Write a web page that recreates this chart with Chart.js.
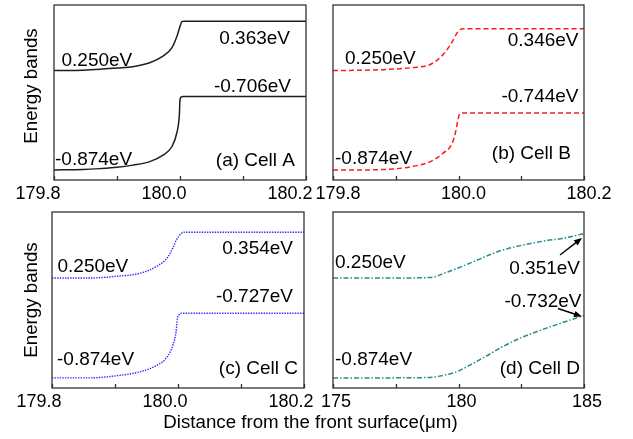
<!DOCTYPE html>
<html>
<head>
<meta charset="utf-8">
<script src="https://cdn.jsdelivr.net/npm/chart.js@4.4.1/dist/chart.umd.min.js"></script>
<style>
  html, body { margin: 0; padding: 0; background: #fff; }
  #wrap { position: relative; width: 633px; height: 439px; overflow: hidden; }
  #wrap canvas { position: absolute; left: 0; top: 0; }
</style>
</head>
<body>
<div id="wrap">
  <canvas id="cellA" width="633" height="439"></canvas>
  <canvas id="cellB" width="633" height="439"></canvas>
  <canvas id="cellC" width="633" height="439"></canvas>
  <canvas id="cellD" width="633" height="439"></canvas>
</div>
<script>
// Band edges across the junction region (depth in µm, energy in eV).
// cb = upper band edge, vb = lower band edge.
const depthA_cb  = [179.800, 179.846, 179.873, 179.900, 179.925, 179.952, 179.973, 179.987, 179.995, 180.000, 180.003, 180.006, 180.200];
const energyA_cb = [0.250, 0.251, 0.253, 0.256, 0.259, 0.268, 0.283, 0.302, 0.328, 0.351, 0.362, 0.363, 0.363];
const depthA_vb  = [179.800, 179.846, 179.873, 179.900, 179.925, 179.952, 179.973, 179.987, 179.995, 179.999, 180.000, 180.002, 180.005, 180.200];
const energyA_vb = [-0.874, -0.873, -0.871, -0.868, -0.863, -0.855, -0.840, -0.821, -0.789, -0.748, -0.714, -0.707, -0.706, -0.706];

const depthB_cb  = [179.800, 179.875, 179.927, 179.955, 179.975, 179.990, 179.999, 180.007, 180.012, 180.200];
const energyB_cb = [0.250, 0.252, 0.257, 0.264, 0.286, 0.316, 0.339, 0.346, 0.346, 0.346];
const depthB_vb  = [179.800, 179.848, 179.902, 179.927, 179.955, 179.975, 179.990, 179.996, 179.999, 180.002, 180.007, 180.200];
const energyB_vb = [-0.874, -0.874, -0.871, -0.866, -0.855, -0.836, -0.813, -0.783, -0.760, -0.746, -0.744, -0.744];

const depthC_cb  = [179.800, 179.860, 179.903, 179.940, 179.967, 179.983, 179.992, 179.998, 180.005, 180.010, 180.200];
const energyC_cb = [0.250, 0.250, 0.254, 0.261, 0.277, 0.296, 0.319, 0.338, 0.351, 0.354, 0.354];
const depthC_vb  = [179.800, 179.860, 179.903, 179.940, 179.967, 179.983, 179.992, 179.997, 179.999, 180.002, 180.006, 180.200];
const energyC_vb = [-0.874, -0.874, -0.869, -0.860, -0.845, -0.826, -0.799, -0.769, -0.739, -0.730, -0.727, -0.727];

const depthD_cb  = [175.00, 177.00, 178.86, 179.53, 180.17, 180.84, 181.52, 182.04, 182.83, 183.51, 184.14, 185.00];
const energyD_cb = [0.250, 0.250, 0.251, 0.263, 0.277, 0.293, 0.309, 0.318, 0.328, 0.335, 0.340, 0.351];
const depthD_vb  = [175.00, 177.00, 178.86, 179.25, 179.93, 180.45, 181.12, 181.76, 182.44, 183.11, 183.91, 185.00];
const energyD_vb = [-0.874, -0.874, -0.873, -0.870, -0.860, -0.845, -0.824, -0.803, -0.784, -0.769, -0.753, -0.732];

// x-axis ticks (every other one carries a label)
const ticksFine    = [179.8, 179.9, 180.0, 180.1, 180.2];
const tickTextFine = ['179.8', '', '180.0', '', '180.2'];
const ticksWide    = [175, 177.5, 180, 182.5, 185];
const tickTextWide = ['175', '', '180', '', '185'];

const cellNames = ['(a) Cell A', '(b) Cell B', '(c) Cell C', '(d) Cell D'];
const yTitle = 'Energy bands';
const xTitle = 'Distance from the front surface(\u03bcm)';

const FAMILY = '"Liberation Sans", Arial, sans-serif';
const NOTE_FONT = '19px ' + FAMILY;
const TITLE_FONT = '18.7px ' + FAMILY;
Chart.defaults.font.family = FAMILY;
Chart.defaults.font.size = 18;
Chart.defaults.color = '#000';

const W = 633, H = 439;
const AXIS_H = 40;   // reserved height of the bottom axis band
const eV = v => v.toFixed(3) + 'eV';
const pts = (xs, ys) => xs.map((x, i) => ({ x, y: ys[i] }));

function arrow(ctx, x1, y1, x2, y2) {
  const ang = Math.atan2(y2 - y1, x2 - x1), L = 8, w = 3.2;
  ctx.beginPath(); ctx.moveTo(x1, y1); ctx.lineTo(x2 - Math.cos(ang) * L * 0.8, y2 - Math.sin(ang) * L * 0.8); ctx.stroke();
  ctx.beginPath();
  ctx.moveTo(x2, y2);
  ctx.lineTo(x2 - L * Math.cos(ang) + w * Math.sin(ang), y2 - L * Math.sin(ang) - w * Math.cos(ang));
  ctx.lineTo(x2 - L * Math.cos(ang) - w * Math.sin(ang), y2 - L * Math.sin(ang) + w * Math.cos(ang));
  ctx.closePath(); ctx.fill();
}

const panels = [
  { id: 'cellA', area: { l: 54, t: 5, r: 306, b: 180 }, xr: [179.8, 180.2], ticks: ticksFine, tickText: tickTextFine, shift: -16,
    cb: [depthA_cb, energyA_cb], vb: [depthA_vb, energyA_vb], color: '#1e1e1e', dash: [], width: 1.5,
    notes: [[eV(energyA_cb[0]), 61.5, 65.5, 'left'], [eV(energyA_cb[energyA_cb.length - 1]), 290, 43.5, 'right'],
            [eV(energyA_vb[energyA_vb.length - 1]), 291, 91.5, 'right'], [eV(energyA_vb[0]), 55, 165, 'left'],
            [cellNames[0], 295, 166, 'right']],
    yTitle: [36.5, 86] },
  { id: 'cellB', area: { l: 333, t: 5, r: 584, b: 180 }, xr: [179.8, 180.2], ticks: ticksFine, tickText: tickTextFine, shift: 5,
    cb: [depthB_cb, energyB_cb], vb: [depthB_vb, energyB_vb], color: '#ff1a1a', dash: [5, 3], width: 1.5,
    notes: [[eV(energyB_cb[0]), 345, 63.5, 'left'], [eV(energyB_cb[energyB_cb.length - 1]), 578.5, 46, 'right'],
            [eV(energyB_vb[energyB_vb.length - 1]), 578.5, 101.5, 'right'], [eV(energyB_vb[0]), 335, 163.5, 'left'],
            [cellNames[1], 571, 158.5, 'right']] },
  { id: 'cellC', area: { l: 52, t: 212, r: 304, b: 388 }, xr: [179.8, 180.2], ticks: ticksFine, tickText: tickTextFine, shift: -13,
    cb: [depthC_cb, energyC_cb], vb: [depthC_vb, energyC_vb], color: '#2b2bff', dash: [1.4, 1.2], width: 1.4,
    notes: [[eV(energyC_cb[0]), 57.5, 271.5, 'left'], [eV(energyC_cb[energyC_cb.length - 1]), 293, 253.5, 'right'],
            [eV(energyC_vb[energyC_vb.length - 1]), 293, 302, 'right'], [eV(energyC_vb[0]), 57, 365, 'left'],
            [cellNames[2], 298, 373.5, 'right']],
    yTitle: [37, 300], xTitle: [310.5, 428] },
  { id: 'cellD', area: { l: 333, t: 212, r: 584, b: 388 }, xr: [175, 185], ticks: ticksWide, tickText: tickTextWide, shift: 3,
    cb: [depthD_cb, energyD_cb], vb: [depthD_vb, energyD_vb], color: '#2a8a8a', dash: [5, 2, 1.5, 2], width: 1.5,
    notes: [[eV(energyD_cb[0]), 335, 267.5, 'left'], [eV(energyD_cb[energyD_cb.length - 1]), 580, 273.5, 'right'],
            [eV(energyD_vb[energyD_vb.length - 1]), 581.5, 306.5, 'right'], [eV(energyD_vb[0]), 335, 365, 'left'],
            [cellNames[3], 580, 373.5, 'right']],
    arrows: [[560, 255, 582, 238], [558, 308.5, 582, 316.5]] }
];

panels.forEach(p => {
  const frame = {
    id: 'frame',
    afterDatasetsDraw(chart) {
      const { ctx, chartArea: a } = chart;
      const xs = chart.scales.x;
      ctx.save();
      ctx.strokeStyle = '#333';
      ctx.lineWidth = 1.3;
      ctx.strokeRect(a.left, a.top, a.right - a.left, a.bottom - a.top);
      // inward tick marks along the bottom edge
      ctx.beginPath();
      xs.ticks.forEach(t => {
        const px = Math.round(xs.getPixelForValue(t.value)) + 0.5;
        ctx.moveTo(px, a.bottom);
        ctx.lineTo(px, a.bottom - 4);
      });
      ctx.stroke();

      ctx.font = NOTE_FONT;
      ctx.fillStyle = '#000';
      ctx.textBaseline = 'alphabetic';
      p.notes.forEach(([txt, x, y, al]) => { ctx.textAlign = al; ctx.fillText(txt, x, y); });

      if (p.arrows) {
        ctx.strokeStyle = '#000'; ctx.fillStyle = '#000'; ctx.lineWidth = 1.4;
        p.arrows.forEach(ar => arrow(ctx, ...ar));
      }
      ctx.font = TITLE_FONT;
      if (p.yTitle) {
        ctx.save();
        ctx.translate(p.yTitle[0], p.yTitle[1]);
        ctx.rotate(-Math.PI / 2);
        ctx.textAlign = 'center';
        ctx.fillText(yTitle, 0, 0);
        ctx.restore();
      }
      if (p.xTitle) {
        ctx.textAlign = 'center';
        ctx.fillText(xTitle, p.xTitle[0], p.xTitle[1]);
      }
      ctx.restore();
    }
  };

  const lineStyle = {
    borderColor: p.color, borderWidth: p.width, borderDash: p.dash,
    pointRadius: 0, fill: false, cubicInterpolationMode: 'monotone'
  };

  new Chart(document.getElementById(p.id), {
    type: 'line',
    data: {
      datasets: [
        Object.assign({ label: 'upper band', data: pts(p.cb[0], p.cb[1]), yAxisID: 'yc' }, lineStyle),
        Object.assign({ label: 'lower band', data: pts(p.vb[0], p.vb[1]), yAxisID: 'yv' }, lineStyle)
      ]
    },
    options: {
      responsive: false,
      animation: false,
      devicePixelRatio: 1,
      events: [],
      layout: { padding: { left: p.area.l, top: p.area.t, right: W - p.area.r, bottom: H - p.area.b - AXIS_H } },
      plugins: { legend: { display: false }, tooltip: { enabled: false } },
      scales: {
        x: {
          type: 'linear', position: 'bottom', min: p.xr[0], max: p.xr[1],
          grid: { display: false, drawTicks: false }, border: { display: false },
          afterBuildTicks: s => { s.ticks = p.ticks.map(v => ({ value: v })); },
          afterFit: s => { s.height = AXIS_H; },
          ticks: { padding: 3, labelOffset: p.shift, color: '#000', autoSkip: false, maxRotation: 0, minRotation: 0,
                   font: { size: 18 }, callback: (v, i) => p.tickText[i] }
        },
        yc: { type: 'linear', display: false, min: 0.0, max: 0.4 },
        yv: { type: 'linear', display: false, min: -0.897, max: -0.497 }
      }
    },
    plugins: [frame]
  });
});
</script>
</body>
</html>
